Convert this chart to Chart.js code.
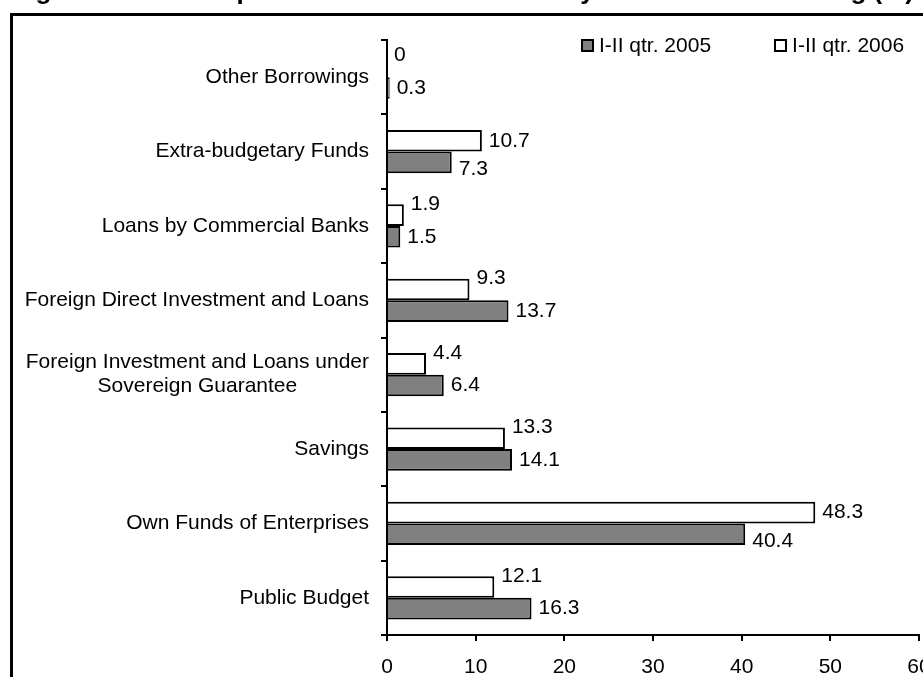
<!DOCTYPE html>
<html>
<head>
<meta charset="utf-8">
<title>Investment by Source of Financing</title>
<script src="https://cdn.jsdelivr.net/npm/chart.js@4"></script>
<style>
  html, body { margin: 0; padding: 0; background: #fff; overflow: hidden; }
  body { width: 923px; height: 677px; position: relative; font-family: Arial, "Liberation Sans", sans-serif; }
  #frame { position: absolute; left: 10px; top: 13px; width: 1000px; height: 800px; border: 3px solid #000; }
  #wrap { position: absolute; left: 0; top: 0; width: 960px; height: 700px; }
  #legend { position: absolute; top: 33px; left: 581px; display: flex; font-size: 21px; color: #000; white-space: nowrap; }
  #legend .item { display: flex; align-items: center; margin-right: 63px; flex: none; }
  #legend .box { width: 9px; height: 9px; border: 2px solid #000; margin-right: 5px; }
</style>
</head>
<body>
<div id="frame"></div>
<div id="wrap"><canvas id="chart" width="960" height="700"></canvas></div>
<div id="legend"></div>
<script>
  // categories, top to bottom
  const categories = [
    'Other Borrowings',
    'Extra-budgetary Funds',
    'Loans by Commercial Banks',
    'Foreign Direct Investment and Loans',
    ['Foreign Investment and Loans under', 'Sovereign Guarantee'],
    'Savings',
    'Own Funds of Enterprises',
    'Public Budget'
  ];
  const values2006 = [0, 10.7, 1.9, 9.3, 4.4, 13.3, 48.3, 12.1];
  const values2005 = [0.3, 7.3, 1.5, 13.7, 6.4, 14.1, 40.4, 16.3];
  const seriesNames = ['I-II qtr. 2005', 'I-II qtr. 2006'];
  const xTicks = [0, 10, 20, 30, 40, 50, 60];

  const FONT = 'Arial, "Liberation Sans", sans-serif';
  const titleText = 'Figure 5. Fixed Capital Investment Structure by Sources of Financing (%)';

  // category labels: single lines right-aligned, wrapped ones centred on their widest line
  const categoryLabels = {
    id: 'categoryLabels',
    afterDraw(chart) {
      const ctx = chart.ctx;
      const scale = chart.scales.y;
      const right = scale.right - 18;
      ctx.save();
      ctx.font = '21px ' + FONT;
      ctx.fillStyle = '#000';
      ctx.textBaseline = 'middle';
      ctx.textAlign = 'center';
      categories.forEach((label, i) => {
        const lines = Array.isArray(label) ? label : [label];
        const y = scale.getPixelForValue(i);
        const widest = Math.max(...lines.map(l => ctx.measureText(l).width));
        const cx = right - widest / 2;
        lines.forEach((line, k) => {
          ctx.fillText(line, cx, y + (k - (lines.length - 1) / 2) * 24);
        });
      });
      ctx.restore();
    }
  };

  // value labels at the end of each bar, nudged apart where they would run into
  // the neighbouring bar or into each other
  const valueLabels = {
    id: 'valueLabels',
    afterDatasetsDraw(chart) {
      const ctx = chart.ctx;
      const top = chart.getDatasetMeta(0);
      const bottom = chart.getDatasetMeta(1);
      const upper = chart.data.datasets[0].data;
      const lower = chart.data.datasets[1].data;
      ctx.save();
      ctx.font = '21px ' + FONT;
      ctx.fillStyle = '#000';
      ctx.textAlign = 'left';
      ctx.textBaseline = 'middle';
      top.data.forEach((barA, i) => {
        const barB = bottom.data[i];
        const tA = String(upper[i]);
        const tB = String(lower[i]);
        const xA = barA.x + 7;
        const xB = barB.x + 7;
        const wA = ctx.measureText(tA).width;
        const wB = ctx.measureText(tB).width;
        const overlap = xA < xB + wB && xB < xA + wA;
        const raise = overlap || barB.x > xA;
        const lower_ = barA.x > xB;
        ctx.fillText(tA, xA, barA.y + (raise ? -11 : 0));
        ctx.fillText(tB, xB, barB.y + (lower_ ? 7 : 0));
      });
      ctx.restore();
    }
  };

  // heading, mostly above the visible page
  const heading = {
    id: 'heading',
    afterDraw(chart) {
      const ctx = chart.ctx;
      ctx.save();
      ctx.font = 'bold 26px ' + FONT;
      ctx.fillStyle = '#000';
      ctx.textAlign = 'right';
      ctx.textBaseline = 'alphabetic';
      ctx.fillText(titleText, 914, -1);
      ctx.restore();
    }
  };

  const chart = new Chart(document.getElementById('chart'), {
    type: 'bar',
    data: {
      labels: categories,
      datasets: [
        {
          label: seriesNames[1],
          data: values2006,
          backgroundColor: '#ffffff',
          borderColor: '#000000',
          borderWidth: 2,
          borderSkipped: 'start'
        },
        {
          label: seriesNames[0],
          data: values2005,
          backgroundColor: '#808080',
          borderColor: '#000000',
          borderWidth: 2,
          borderSkipped: 'start'
        }
      ]
    },
    options: {
      indexAxis: 'y',
      responsive: false,
      animation: false,
      categoryPercentage: 0.58,
      barPercentage: 1,
      layout: { padding: { left: 0, top: 40, right: 41, bottom: 0 } },
      plugins: {
        legend: { display: false },
        tooltip: { enabled: false }
      },
      scales: {
        y: {
          offset: true,
          grid: {
            offset: true,
            drawOnChartArea: false,
            drawTicks: true,
            tickLength: 6,
            color: '#000',
            lineWidth: 2
          },
          border: { display: true, color: '#000', width: 2 },
          ticks: { display: false },
          afterFit(scale) { scale.width = 387; }
        },
        x: {
          min: 0,
          max: 60,
          afterBuildTicks(scale) { scale.ticks = xTicks.map(v => ({ value: v })); },
          grid: {
            drawOnChartArea: false,
            drawTicks: true,
            tickLength: 6,
            color: '#000',
            lineWidth: 2
          },
          border: { display: true, color: '#000', width: 2 },
          ticks: {
            color: '#000',
            padding: 14,
            maxRotation: 0,
            font: { family: FONT, size: 21 }
          },
          afterFit(scale) { scale.height = 65; }
        }
      }
    },
    plugins: [categoryLabels, valueLabels, heading]
  });

  // legend in series order
  const legendEl = document.getElementById('legend');
  [1, 0].forEach(di => {
    const ds = chart.data.datasets[di];
    const item = document.createElement('div');
    item.className = 'item';
    const box = document.createElement('span');
    box.className = 'box';
    box.style.background = ds.backgroundColor;
    const text = document.createElement('span');
    text.textContent = ds.label;
    item.appendChild(box);
    item.appendChild(text);
    legendEl.appendChild(item);
  });
</script>
</body>
</html>
